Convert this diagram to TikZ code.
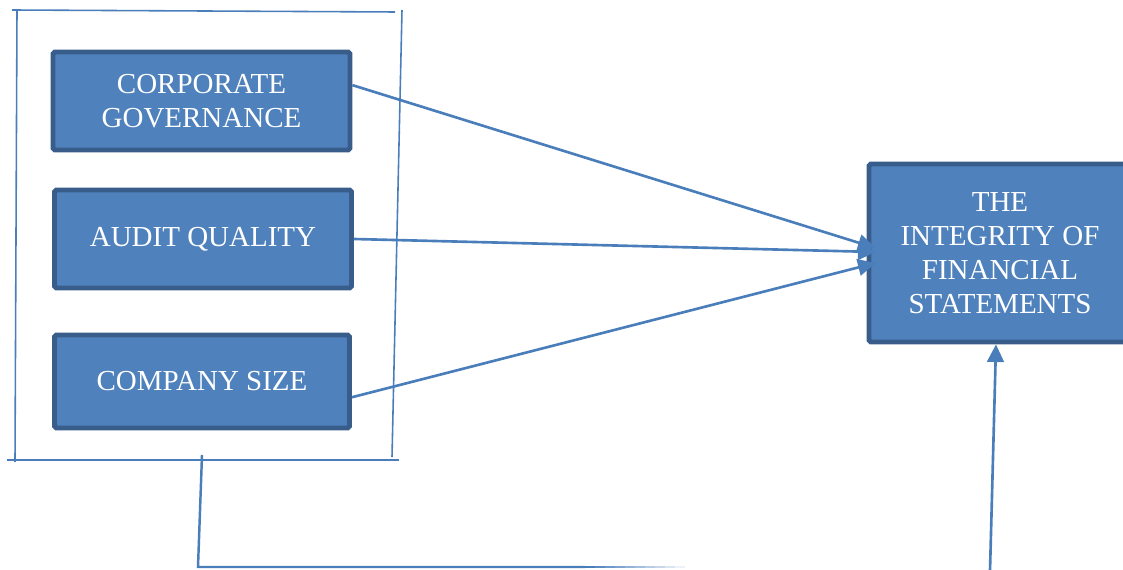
\documentclass[tikz,border=0pt]{standalone}
\usepackage{fontspec}
\setmainfont{Liberation Serif}
\usepackage{tikz}
\usetikzlibrary{arrows.meta,calc,positioning}

\definecolor{boxfill}{HTML}{4F81BD}
\definecolor{boxline}{HTML}{385D8A}
\definecolor{linkblue}{HTML}{4A7EBB}

\tikzset{
  varbox/.style={draw=boxline, fill=boxfill, line width=2.8pt, rounded corners=1pt,
    text=white, align=center, inner sep=0pt,
    font=\fontsize{16.5}{19.3}\selectfont},
  link/.style={draw=linkblue, line width=1.5pt, -{Triangle[length=10pt,width=9.5pt]}},
  frame/.style={draw=linkblue, line width=0.9pt}
}

\begin{document}
\begin{tikzpicture}[x=0.02cm, y=-0.02cm]
  \useasboundingbox (0,0) rectangle (1123,570);
  \clip (0,0) rectangle (1123,570);

  % independent variables
  \node[varbox, minimum width=5.94cm, minimum height=1.96cm] (cg) at (201.5,101) {CORPORATE\\GOVERNANCE};
  \node[varbox, minimum width=5.94cm, minimum height=1.96cm] (aq) at (203,239) {AUDIT QUALITY};
  \node[varbox, minimum width=5.9cm, minimum height=1.86cm] (cs) at (202,381.5) {COMPANY SIZE};
  % dependent variable
  \node[varbox, minimum width=5.24cm, minimum height=3.56cm] (fs) at (1000,253) {THE\\INTEGRITY OF\\FINANCIAL\\STATEMENTS};

  % frame round the three variables
  \draw[frame] (12,10) -- (395,12);
  \draw[frame] (17,11) -- (15,462);
  \draw[frame] (402,10) -- (392,457);
  \draw[frame] (7,460) -- (399,460);

  \foreach \src/\dy in {cg.6/-5, aq.east/-1, cs.-6/10}
    \draw[link] (\src) -- ($(fs.west)+(9,\dy)$);

  % joint effect
  \coordinate (fb) at (202,455);
  \coordinate (fc) at (198,567);
  \coordinate (fd) at (990,571);
  \draw[frame, line width=1.4pt] (fb) -- (fc) -- (585,567);
  \foreach \i in {0,...,9}
    \draw[linkblue, line width=1.4pt, opacity=1-\i/10] (585+\i*10,567) -- (595+\i*10,567);
  \draw[link] (fd) -- ($(fs.south)+(-4,0)$);
\end{tikzpicture}
\end{document}
